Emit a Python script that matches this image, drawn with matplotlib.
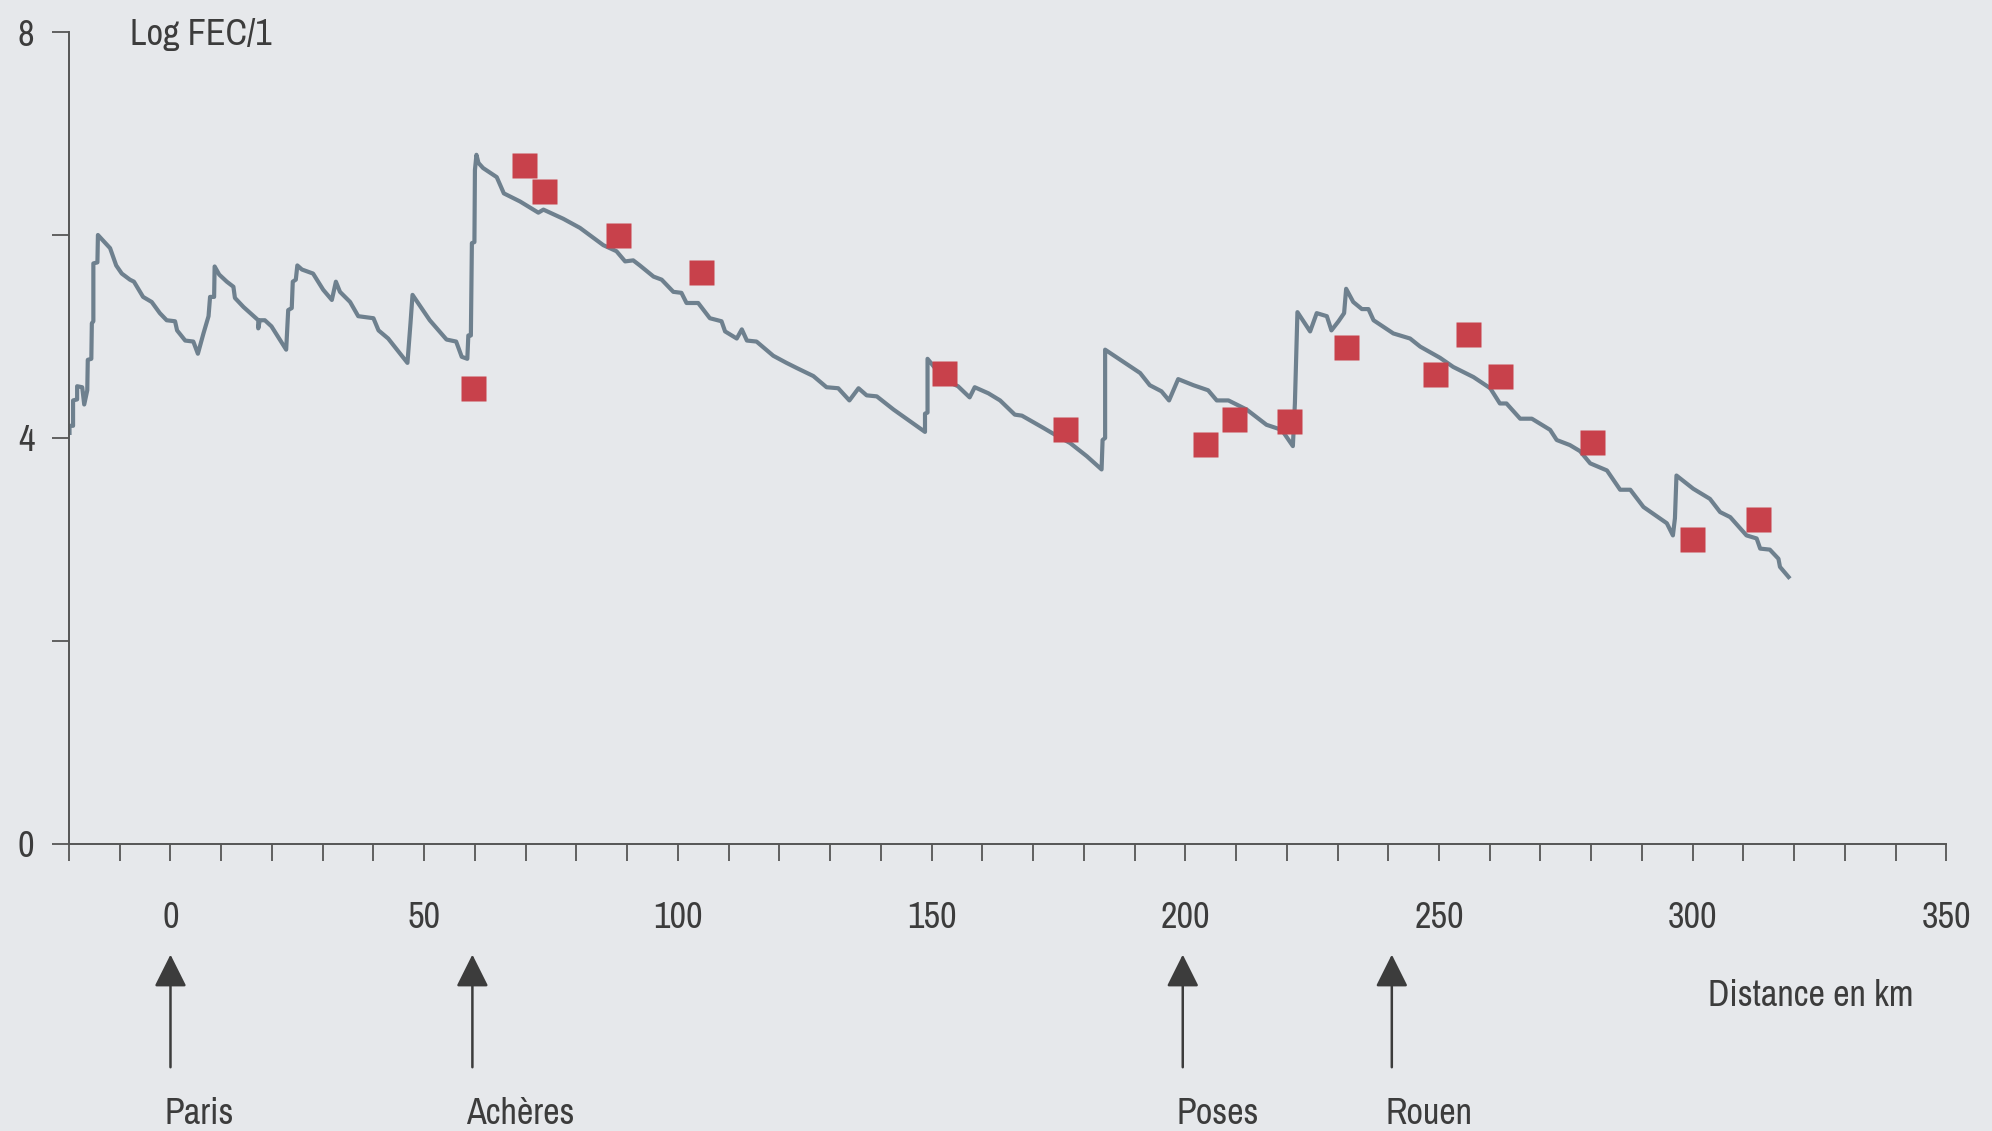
import matplotlib
matplotlib.use("Agg")
import matplotlib.pyplot as plt
from matplotlib.patches import ArrowStyle
from matplotlib import font_manager

# Modelled faecal coliform profile along the Seine (log FEC per litre)
dist_km = [
    -19.9, -19.9, -19.2, -19.2, -18.4, -18.4, -17.4, -17.0, -16.4, -16.3, -15.6,
    -15.5, -15.2, -15.2, -14.4, -14.3, -11.9, -10.7, -9.6, -8.0, -7.2, -5.4,
    -3.7, -2.1, -0.75, 0.9, 1.3, 2.9, 4.5, 5.4, 6.5, 7.5, 7.8, 8.6, 8.7, 9.6,
    11.1, 12.4, 12.7, 14.4, 17.3, 17.3, 17.6, 18.6, 19.9, 22.8, 23.2, 23.9,
    24.1, 24.7, 25.0, 25.9, 28.1, 30.1, 31.8, 32.6, 33.4, 35.4, 37.0, 40.0,
    41.0, 42.9, 46.7, 47.3, 47.7, 51.1, 54.4, 56.3, 57.4, 58.5, 58.7, 59.2,
    59.4, 59.9, 60.0, 60.3, 60.7, 61.6, 64.3, 65.7, 68.9, 72.5, 73.5, 77.4,
    80.7, 85.3, 87.9, 89.6, 91.2, 92.5, 95.2, 96.8, 99.1, 100.7, 101.7, 104.0,
    106.3, 108.6, 109.3, 111.6, 112.6, 113.6, 115.5, 118.8, 121.4, 123.4,
    126.7, 129.3, 131.6, 133.8, 135.6, 137.2, 139.2, 142.5, 148.7, 148.7,
    149.2, 149.2, 152.6, 155.2, 157.5, 158.5, 161.2, 163.5, 166.4, 167.8,
    172.0, 173.7, 177.3, 180.6, 183.5, 183.7, 184.2, 184.2, 187.8, 191.1,
    193.0, 195.3, 196.8, 198.6, 201.6, 204.5, 206.2, 208.5, 212.1, 216.0,
    219.0, 221.2, 221.6, 222.1, 224.6, 225.9, 227.9, 228.8, 230.2, 231.3,
    231.7, 233.1, 234.8, 236.1, 237.1, 241.0, 244.3, 246.3, 250.2, 252.8,
    256.8, 260.1, 262.0, 263.3, 266.0, 268.3, 271.9, 273.2, 275.8, 277.8,
    279.8, 283.1, 285.7, 287.7, 290.3, 294.9, 296.1, 296.5, 296.8, 300.1,
    303.4, 305.4, 307.4, 310.6, 312.6, 313.3, 315.2, 316.9, 317.2, 318.9,
]
log_fec = [
    4.05, 4.12, 4.12, 4.37, 4.38, 4.51, 4.50, 4.33, 4.47, 4.77, 4.78,
    5.13, 5.15, 5.72, 5.73, 6.00, 5.87, 5.70, 5.62, 5.56, 5.54, 5.39,
    5.34, 5.23, 5.16, 5.15, 5.06, 4.96, 4.95, 4.83, 5.03, 5.20, 5.39, 5.39, 5.69, 5.61,
    5.54, 5.49, 5.38, 5.29, 5.16, 5.08, 5.16, 5.16, 5.10, 4.87, 5.26, 5.28,
    5.54, 5.56, 5.70, 5.66, 5.62, 5.46, 5.36, 5.54, 5.44, 5.34, 5.20, 5.18,
    5.06, 4.98, 4.74, 5.13, 5.41, 5.16, 4.97, 4.95, 4.80, 4.78, 5.01, 5.01,
    5.92, 5.93, 6.64, 6.79, 6.71, 6.66, 6.57, 6.41, 6.33, 6.22, 6.25, 6.16,
    6.07, 5.90, 5.84, 5.74, 5.75, 5.70, 5.59, 5.56, 5.44, 5.43, 5.33, 5.33,
    5.18, 5.15, 5.05, 4.98, 5.07, 4.96, 4.95, 4.81, 4.74, 4.69,
    4.61, 4.50, 4.49, 4.37, 4.49, 4.42, 4.41, 4.28, 4.06, 4.24,
    4.25, 4.78, 4.57, 4.51, 4.40, 4.50, 4.44, 4.37, 4.23, 4.22,
    4.10, 4.05, 3.95, 3.82, 3.69, 3.98, 4.00, 4.87, 4.75, 4.64,
    4.52, 4.46, 4.37, 4.58, 4.52, 4.47, 4.37, 4.37, 4.28, 4.13,
    4.08, 3.92, 4.34, 5.24, 5.05, 5.23, 5.20, 5.06, 5.15, 5.23,
    5.47, 5.34, 5.27, 5.27, 5.16, 5.03, 4.98, 4.90, 4.79, 4.70,
    4.60, 4.49, 4.34, 4.34, 4.19, 4.19, 4.08, 3.98, 3.93, 3.87,
    3.75, 3.68, 3.49, 3.49, 3.32, 3.16, 3.04, 3.21, 3.63, 3.50,
    3.40, 3.27, 3.22, 3.04, 3.01, 2.91, 2.90, 2.81, 2.73, 2.63,
]

# Measured values
obs_km = [59.7, 69.7, 73.7, 88.1, 104.5, 152.5, 176.3, 203.9, 209.6,
          220.4, 231.7, 249.2, 255.7, 262.0, 280.2, 299.8, 312.8]
obs_log_fec = [4.49, 6.69, 6.43, 6.00, 5.64, 4.64, 4.09, 3.94, 4.19,
               4.17, 4.90, 4.63, 5.02, 4.61, 3.96, 3.00, 3.20]

# Axis ticks and labels
x_ticks = list(range(-20, 351, 10))
x_tick_labels = [str(t) if (t >= 0 and t % 50 == 0) else "" for t in x_ticks]
y_ticks = [0, 2, 4, 6, 8]
y_tick_labels = ["0", "", "4", "", "8"]

# Landmarks along the river
town_names = ["Paris", "Achères", "Poses", "Rouen"]
town_km = [0, 59.5, 199.5, 240.7]

BG = "#e6e8eb"
INK = "#3c3c3c"
LINE = "#6e808e"
RED = "#c8414b"

# Use a condensed face when one is installed, otherwise a plain sans
fonts = font_manager.fontManager.ttflist
names = {f.name for f in fonts}
has_dejavu_cond = any(f.name == "DejaVu Sans" and str(f.stretch) in
                      ("condensed", "semi-condensed") for f in fonts)
cond_named = sorted(n for n in names if "Condensed" in n or "Narrow" in n)
if cond_named:
    FONT = [cond_named[0], "DejaVu Sans"]
    STRETCH = "normal"
    FS = 26
elif has_dejavu_cond:
    FONT = ["DejaVu Sans"]
    STRETCH = "condensed"
    FS = 23
else:
    FONT = ["Liberation Sans", "DejaVu Sans"]
    STRETCH = "normal"
    FS = 22.5

plt.rcParams["font.family"] = FONT
plt.rcParams["font.stretch"] = STRETCH

fig = plt.figure(figsize=(19.92, 11.31), dpi=100, facecolor=BG)
ax = fig.add_axes([0.03464, 0.2538, 0.94247, 0.7179])
ax.set_facecolor(BG)

ax.plot(dist_km, log_fec, color=LINE, lw=3.0, solid_joinstyle="round", zorder=2)
ax.plot(obs_km, obs_log_fec, ls="none", marker="s", ms=18, mec="none",
        mfc=RED, zorder=3)

ax.set_xlim(-20, 350)
ax.set_ylim(0, 8)

for side in ("top", "right"):
    ax.spines[side].set_visible(False)
for side in ("left", "bottom"):
    ax.spines[side].set_color("#555555")
    ax.spines[side].set_linewidth(1.4)

ax.set_xticks(x_ticks)
ax.set_xticklabels(x_tick_labels)
ax.set_yticks(y_ticks)
ax.set_yticklabels(y_tick_labels)
ax.tick_params(axis="x", direction="out", length=12, width=1.3,
               color="#555555", pad=29, labelsize=FS, labelcolor=INK)
ax.tick_params(axis="y", direction="out", length=12, width=1.3,
               color="#555555", pad=13, labelsize=FS, labelcolor=INK)

ax.text(-8.0, 7.87, "Log FEC/1", fontsize=FS, color=INK,
        ha="left", va="baseline")
ax.text(343.6, -1.60, "Distance en km", fontsize=FS, color=INK,
        ha="right", va="baseline", clip_on=False)

arrow = ArrowStyle("-|>", head_length=20, head_width=10)
for name, km in zip(town_names, town_km):
    ax.annotate("", xy=(km, -1.09), xytext=(km, -2.20),
                arrowprops=dict(arrowstyle=arrow, mutation_scale=1,
                                color=INK, lw=1.8, shrinkA=0, shrinkB=0),
                annotation_clip=False)
    ax.text(km - 1.2, -2.76, name, fontsize=FS, color=INK,
            ha="left", va="baseline", clip_on=False)

fig.savefig("out.png", dpi=100, facecolor=BG)
